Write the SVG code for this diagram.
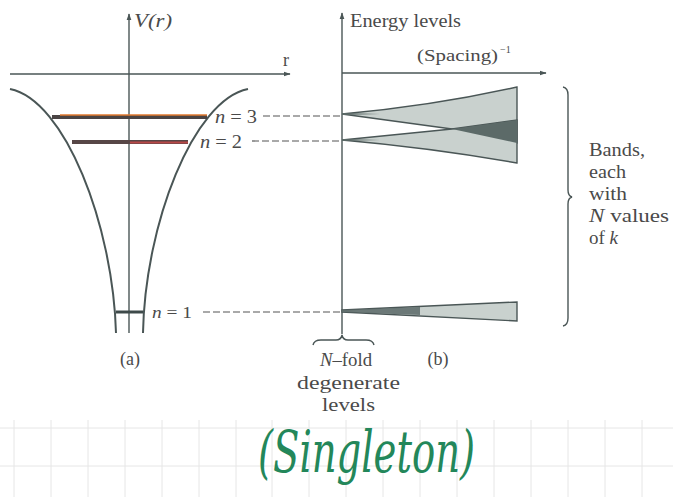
<svg xmlns="http://www.w3.org/2000/svg" width="673" height="497" viewBox="0 0 673 497">
<defs>
<marker id="arr" viewBox="0 0 10 10" refX="9" refY="5" markerWidth="7" markerHeight="7" orient="auto" markerUnits="userSpaceOnUse">
<path d="M0,1.5 L10,5 L0,8.5 Z" fill="#4a5656"/>
</marker>
<style>
.ax{stroke:#4a5656;stroke-width:1.4;fill:none}
.cv{stroke:#4a5656;stroke-width:2;fill:none}
.t{font-family:"Liberation Serif","DejaVu Serif",serif;font-size:18px;fill:#4a4a4a}
.it{font-style:italic}
.dash{stroke:#555;stroke-width:1.2;stroke-dasharray:7 3;fill:none}
.grid{stroke:#e6e6e6;stroke-width:1;fill:none}
.band{fill:#c9d1ce;stroke:#4a5656;stroke-width:1.4}
.dark{fill:#5c6a68}
</style>
</defs>
<rect width="673" height="497" fill="#ffffff"/>
<g id="grid">
<path class="grid" d="M0,428 H673 M0,466 H673"/>
<path class="grid" d="M14,420 V497 M51,420 V497 M88,420 V497 M125,420 V497 M162,420 V497 M199,420 V497 M236,420 V497 M272,420 V497 M309,420 V497 M346,420 V497 M383,420 V497 M420,420 V497 M457,420 V497 M494,420 V497 M531,420 V497 M568,420 V497 M605,420 V497 M642,420 V497"/>
</g>
<g id="panel-a">
<line class="ax" x1="129" y1="333" x2="129" y2="14" marker-end="url(#arr)"/>
<text class="t it" x="134" y="27" style="font-size:19px" textLength="38" lengthAdjust="spacingAndGlyphs">V(r)</text>
<line class="ax" x1="10" y1="74" x2="290" y2="74" marker-end="url(#arr)"/>
<text class="t" x="283" y="66">r</text>
<path class="cv" d="M10,89 C65,100 113,225 116,333"/>
<path class="cv" d="M248,89 C193,100 145,225 143,333"/>
<g id="level-a3">
<line x1="52" y1="117" x2="207" y2="117" stroke="#4a4444" stroke-width="4"/>
<line x1="60" y1="115" x2="207" y2="115" stroke="#e0782e" stroke-width="1.5"/>
</g>
<g id="level-a2">
<line x1="72" y1="142" x2="188" y2="142" stroke="#574646" stroke-width="4"/>
<line x1="130" y1="142.5" x2="188" y2="142.5" stroke="#b84848" stroke-width="2"/>
</g>
<g id="level-a1">
<line x1="116" y1="312" x2="143" y2="312" stroke="#3e4a4a" stroke-width="3"/>
</g>
<text class="t" x="130" y="365" text-anchor="middle">(a)</text>
</g>
<g id="labels-n">
<text class="t" x="215" y="123" style="font-size:19px" textLength="42" lengthAdjust="spacingAndGlyphs"><tspan class="it">n</tspan> = 3</text>
<text class="t" x="200" y="148" style="font-size:19px" textLength="42" lengthAdjust="spacingAndGlyphs"><tspan class="it">n</tspan> = 2</text>
<text class="t" x="152" y="318" style="font-size:17px" textLength="40" lengthAdjust="spacingAndGlyphs"><tspan class="it">n</tspan> = 1</text>
</g>
<g id="connectors">
<line class="dash" x1="263" y1="116" x2="342" y2="116"/>
<line class="dash" x1="252" y1="141" x2="342" y2="141"/>
<line class="dash" x1="203" y1="312" x2="342" y2="312"/>
</g>
<g id="panel-b">
<line class="ax" x1="342" y1="334" x2="342" y2="13" marker-end="url(#arr)"/>
<text class="t" x="350" y="27" textLength="111" lengthAdjust="spacingAndGlyphs">Energy levels</text>
<text class="t" x="417" y="61" style="font-size:17px" textLength="81" lengthAdjust="spacingAndGlyphs">(Spacing)</text>
<text class="t" x="500" y="53" style="font-size:10px">−1</text>
<line class="ax" x1="342" y1="73" x2="546" y2="73" marker-end="url(#arr)"/>
<g id="band-3">
<path class="band" d="M342,114 Q432,106 517,87 L517,143 L452,129 Z"/>
</g>
<g id="band-2">
<path class="band" d="M342,140 L452,129 L517,120 L517,163 Q432,148 342,140 Z"/>
</g>
<path class="dark" d="M452,129 L517,120 L517,143 Z"/>
<path class="dark" d="M342,113 L380,114 L342,115 Z M342,139 L380,140 L342,141 Z"/>
<g id="band-1">
<path class="band" d="M342,310 L517,302 L517,321 L342,312 Z"/>
<path class="dark" d="M342,310 L420,307 L420,315 L342,312 Z" opacity="0.85"/>
</g>
<text class="t" x="438" y="365" text-anchor="middle">(b)</text>
</g>
<g id="brace-bands">
<path class="ax" d="M563,87 Q568,88 568,95 L568,190 Q568,196 572,197 Q568,198 568,204 L568,318 Q568,325 563,326"/>
<text class="t" x="589" y="156" textLength="56" lengthAdjust="spacingAndGlyphs">Bands,</text>
<text class="t" x="589" y="178" textLength="37" lengthAdjust="spacingAndGlyphs">each</text>
<text class="t" x="589" y="200" textLength="38" lengthAdjust="spacingAndGlyphs">with</text>
<text class="t" x="589" y="222" textLength="80" lengthAdjust="spacingAndGlyphs"><tspan class="it">N</tspan> values</text>
<text class="t" x="589" y="244" textLength="29" lengthAdjust="spacingAndGlyphs">of <tspan class="it">k</tspan></text>
</g>
<g id="brace-degenerate">
<path class="ax" d="M313,345 Q314,340 321,340 L336,340 Q341,340 342,335 Q343,340 348,340 L366,340 Q373,340 374,345"/>
<text class="t" x="320" y="366" textLength="52" lengthAdjust="spacingAndGlyphs"><tspan class="it">N</tspan>–fold</text>
<text class="t" x="297" y="389" textLength="103" lengthAdjust="spacingAndGlyphs">degenerate</text>
<text class="t" x="322" y="411" textLength="53" lengthAdjust="spacingAndGlyphs">levels</text>
</g>
<g id="handwriting">
<text x="258" y="472" font-family="'DejaVu Serif','Liberation Serif',serif" font-style="italic" font-size="58" fill="#23875a" textLength="217" lengthAdjust="spacingAndGlyphs">(Singleton)</text>
</g>
</svg>
